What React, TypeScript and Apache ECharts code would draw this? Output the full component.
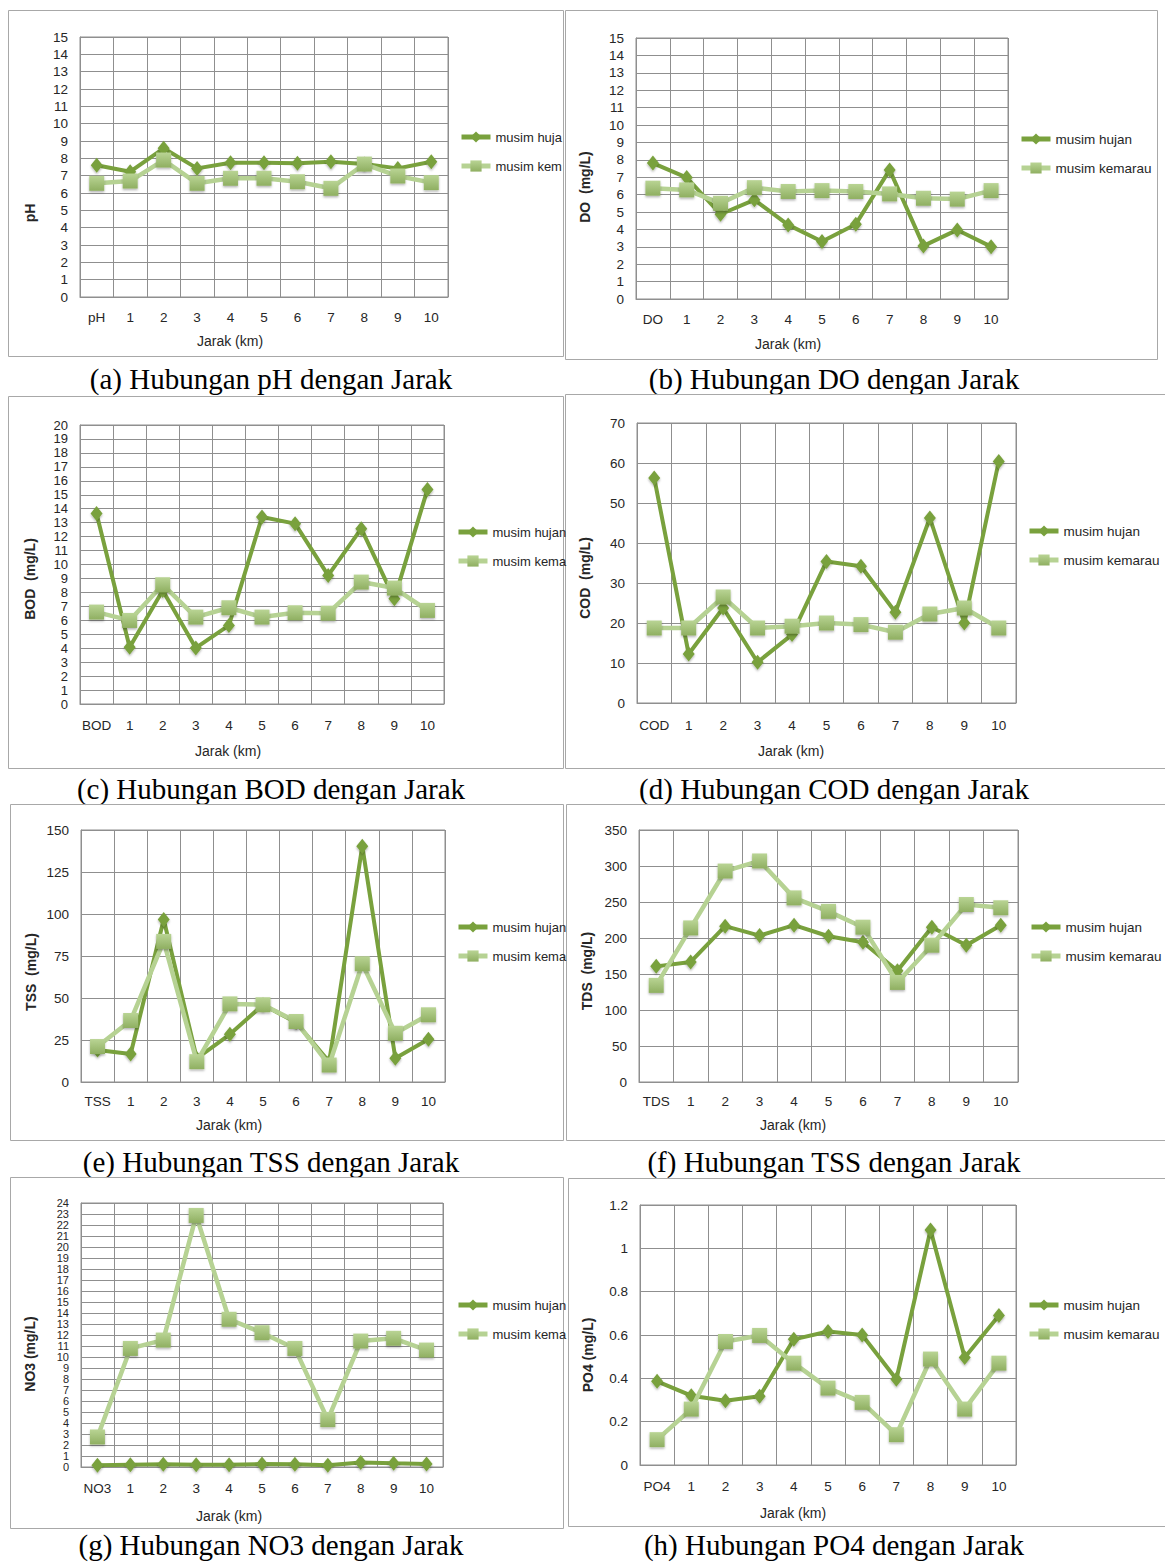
import React, { useEffect, useRef } from "react";
import * as echarts from "echarts";

// ---------- DATA ----------
const DIST = ["1", "2", "3", "4", "5", "6", "7", "8", "9", "10"];
const FIRST_LABELS = ["pH", "DO", "BOD", "COD", "TSS", "TDS", "NO3", "PO4"];
const SERIES_NAMES = ["musim hujan", "musim kemarau"];

const phHujan = [7.6, 7.23, 8.58, 7.42, 7.75, 7.75, 7.71, 7.8, 7.67, 7.42, 7.8];
const phKemarau = [6.56, 6.69, 7.9, 6.56, 6.85, 6.85, 6.65, 6.27, 7.67, 6.98, 6.6];
const doHujan = [7.81, 6.98, 4.87, 5.7, 4.26, 3.3, 4.3, 7.42, 3.05, 3.97, 3.01];
const doKemarau = [6.37, 6.27, 5.5, 6.4, 6.18, 6.23, 6.18, 6.04, 5.79, 5.74, 6.23];
const bodHujan = [13.65, 4.07, 8.14, 4.02, 5.63, 13.41, 12.93, 9.22, 12.57, 7.54, 15.38];
const bodKemarau = [6.59, 5.99, 8.55, 6.23, 6.9, 6.23, 6.54, 6.51, 8.74, 8.31, 6.71];
const codHujan = [56.25, 12.25, 23.75, 10.2, 17.1, 35.4, 34.2, 22.7, 46.25, 20, 60.4];
const codKemarau = [18.75, 18.75, 26.5, 18.75, 19.2, 20, 19.6, 17.7, 22.25, 23.75, 18.75];
const tssHujan = [19.1, 16.7, 96.7, 14, 28.4, 46, 35.4, 12, 140.4, 14.1, 25.5];
const tssKemarau = [21.1, 36.6, 83.7, 12.1, 46.5, 46, 36, 10.1, 70.4, 29, 40];
const tdsHujan = [160.6, 166.7, 216.4, 203.3, 217.8, 202.4, 194, 154.6, 215, 189.9, 217.8];
const tdsKemarau = [134.2, 214, 293, 307, 255.7, 237, 215, 138.3, 190, 246.5, 242];
const no3Hujan = [0.15, 0.2, 0.24, 0.2, 0.2, 0.27, 0.24, 0.15, 0.4, 0.33, 0.27];
const no3Kemarau = [2.73, 10.78, 11.54, 22.87, 13.43, 12.21, 10.78, 4.31, 11.45, 11.7, 10.63];
const po4Hujan = [0.386, 0.32, 0.297, 0.317, 0.58, 0.616, 0.6, 0.396, 1.085, 0.496, 0.69];
const po4Kemarau = [0.117, 0.258, 0.57, 0.598, 0.47, 0.355, 0.289, 0.14, 0.489, 0.258, 0.47];

// y axis ranges [min, max, interval]
const Y_RANGES = [
  [0, 15, 1],
  [0, 15, 1],
  [0, 20, 1],
  [0, 70, 10],
  [0, 150, 25],
  [0, 350, 50],
  [0, 24, 1],
  [0, 1.2, 0.2],
];
const Y_TITLES = ["pH", "DO  (mg/L)", "BOD  (mg/L)", "COD  (mg/L)", "TSS  (mg/L)", "TDS  (mg/L)", "NO3 (mg/L)", "PO4 (mg/L)"];
const X_TITLE = "Jarak (km)";
const CAPTIONS = [
  "(a) Hubungan pH dengan Jarak",
  "(b) Hubungan DO dengan Jarak",
  "(c) Hubungan BOD dengan Jarak",
  "(d) Hubungan COD dengan Jarak",
  "(e) Hubungan TSS dengan Jarak",
  "(f) Hubungan TSS dengan Jarak",
  "(g) Hubungan NO3 dengan Jarak",
  "(h) Hubungan PO4 dengan Jarak",
];
const HUJAN = [phHujan, doHujan, bodHujan, codHujan, tssHujan, tdsHujan, no3Hujan, po4Hujan];
const KEMARAU = [phKemarau, doKemarau, bodKemarau, codKemarau, tssKemarau, tdsKemarau, no3Kemarau, po4Kemarau];

// ---------- LAYOUT ----------
const LAYOUT = [
  { grid: [80, 37, 368, 260], lblMargin: 13, yFont: 13.5, yLH: 16, yT: [30, 213], xT: [230, 341], leg: [459, 129], legW: 70, legF: 13, box: [8, 10, 555, 346], cap: [271, 379] },
  { grid: [636, 38, 372, 261], lblMargin: 13, yFont: 13.5, yLH: 16, yT: [585, 187], xT: [788, 344], leg: [1019, 131], legW: 200, legF: 13.5, box: [565, 10, 592, 349], cap: [834, 379] },
  { grid: [80, 425, 364, 279], lblMargin: 14, yFont: 13, yLH: 13, yT: [30, 579], xT: [228, 751], leg: [456, 524], legW: 75, legF: 13, box: [8, 396, 555, 372], cap: [271, 789] },
  { grid: [637, 423, 379, 280], lblMargin: 15, yFont: 13.5, yLH: 16, yT: [585, 578], xT: [791, 751], leg: [1027, 523], legW: 200, legF: 13.5, box: [565, 394, 610, 374], cap: [834, 789] },
  { grid: [81, 830, 364, 252], lblMargin: 12, yFont: 13.5, yLH: 16, yT: [31, 972], xT: [229, 1125], leg: [456, 919], legW: 75, legF: 13, box: [10, 804, 553, 336], cap: [271, 1162] },
  { grid: [639, 830, 379, 252], lblMargin: 12, yFont: 13.5, yLH: 16, yT: [587, 971], xT: [793, 1125], leg: [1029, 919], legW: 200, legF: 13.5, box: [566, 804, 610, 336], cap: [834, 1162] },
  { grid: [81, 1203, 362, 264], lblMargin: 14, yFont: 11, yLH: 10, yT: [30, 1354], xT: [229, 1516], leg: [456, 1297], legW: 75, legF: 13, box: [10, 1177, 553, 351], cap: [271, 1545] },
  { grid: [640, 1205, 376, 260], lblMargin: 14, yFont: 13.5, yLH: 16, yT: [588, 1355], xT: [793, 1513], leg: [1027, 1297], legW: 200, legF: 13.5, box: [568, 1178, 610, 348], cap: [834, 1545] },
];

const SANS = '"Liberation Sans", Arial, sans-serif';
const SERIF = '"Liberation Serif", "Times New Roman", serif';
const GRID_COLOR = "#8f8f8f";
const TEXT_COLOR = "#262626";
const HUJAN_COLOR = "#79A13D";
const KEMARAU_LINE = "#B6D293";

function kemarauFill() {
  return new echarts.graphic.LinearGradient(0, 0, 0, 1, [
    { offset: 0, color: "#B9D494" },
    { offset: 1, color: "#8FAF61" },
  ]);
}

function buildOption() {
  const grids: any[] = [];
  const xAxes: any[] = [];
  const yAxes: any[] = [];
  const series: any[] = [];
  const legends: any[] = [];
  const graphics: any[] = [];

  LAYOUT.forEach((L, i) => {
    const [gl, gt, gw, gh] = L.grid;
    grids.push({
      left: gl, top: gt, width: gw, height: gh,
      containLabel: false, outerBoundsMode: "none",
      show: true, borderColor: GRID_COLOR, borderWidth: 1, backgroundColor: "transparent",
    });
    xAxes.push({
      type: "category", gridIndex: i, boundaryGap: true,
      data: [FIRST_LABELS[i], ...DIST],
      axisLine: { show: true, lineStyle: { color: GRID_COLOR, width: 1 } },
      axisTick: { show: false },
      axisLabel: { color: TEXT_COLOR, fontFamily: SANS, fontSize: 13.5, margin: L.lblMargin, interval: 0 },
      splitLine: { show: true, interval: 0, lineStyle: { color: GRID_COLOR, width: 1 } },
    });
    const [mn, mx, iv] = Y_RANGES[i];
    yAxes.push({
      type: "value", gridIndex: i, min: mn, max: mx, interval: iv,
      axisLine: { show: true, lineStyle: { color: GRID_COLOR, width: 1 } },
      axisTick: { show: false },
      axisLabel: {
        color: TEXT_COLOR, fontFamily: SANS, fontSize: L.yFont, lineHeight: L.yLH, margin: 12,
        hideOverlap: false, showMinLabel: true, showMaxLabel: true,
      },
      splitLine: { show: true, lineStyle: { color: GRID_COLOR, width: 1 } },
    });
    series.push({
      name: SERIES_NAMES[0], type: "line", xAxisIndex: i, yAxisIndex: i,
      data: HUJAN[i], symbol: "diamond", symbolSize: [12, 15],
      lineStyle: { color: HUJAN_COLOR, width: 4 },
      itemStyle: { color: HUJAN_COLOR, shadowBlur: 2, shadowOffsetY: 1.5, shadowColor: "rgba(0,0,0,0.3)" },
      z: 3,
    });
    series.push({
      name: SERIES_NAMES[1], type: "line", xAxisIndex: i, yAxisIndex: i,
      data: KEMARAU[i], symbol: "rect", symbolSize: 15,
      lineStyle: { color: KEMARAU_LINE, width: 4.5 },
      itemStyle: { color: kemarauFill(), shadowBlur: 2, shadowOffsetY: 1.5, shadowColor: "rgba(0,0,0,0.3)" },
      z: 4,
    });
    legends.push({
      show: true, orient: "vertical", left: L.leg[0], top: L.leg[1], padding: 0,
      itemWidth: 29, itemHeight: 14, itemGap: 13,
      data: [
        { name: SERIES_NAMES[0], lineStyle: { color: HUJAN_COLOR, width: 5 }, itemStyle: { color: HUJAN_COLOR } },
        { name: SERIES_NAMES[1], lineStyle: { color: KEMARAU_LINE, width: 5 }, itemStyle: { color: kemarauFill() } },
      ],
      textStyle: { fontFamily: SANS, fontSize: L.legF, color: TEXT_COLOR, lineHeight: 16, width: L.legW, overflow: "truncate", ellipsis: "" },
      selectedMode: false,
    });
    const [bx, by, bw, bh] = L.box;
    graphics.push({
      type: "rect", shape: { x: bx + 0.5, y: by + 0.5, width: bw, height: bh },
      style: { fill: "none", stroke: "#a8a8a8", lineWidth: 1 }, silent: true, z: 0,
    });
    graphics.push({
      type: "text", x: L.yT[0], y: L.yT[1], rotation: Math.PI / 2,
      style: {
        text: Y_TITLES[i], fill: TEXT_COLOR, font: `bold 14px ${SANS}`,
        align: "center", verticalAlign: "middle", textAlign: "center", textVerticalAlign: "middle",
      },
    });
    graphics.push({
      type: "text", x: L.xT[0], y: L.xT[1],
      style: {
        text: X_TITLE, fill: TEXT_COLOR, font: `14px ${SANS}`,
        align: "center", verticalAlign: "middle", textAlign: "center", textVerticalAlign: "middle",
      },
    });
    graphics.push({
      type: "text", x: L.cap[0], y: L.cap[1],
      style: {
        text: CAPTIONS[i], fill: "#000", font: `29px ${SERIF}`,
        align: "center", verticalAlign: "middle", textAlign: "center", textVerticalAlign: "middle",
      },
    });
  });

  return {
    animation: false,
    backgroundColor: "#ffffff",
    grid: grids,
    xAxis: xAxes,
    yAxis: yAxes,
    legend: legends,
    series,
    graphic: { elements: graphics },
  };
}

export default function App() {
  const ref = useRef<HTMLDivElement>(null);
  useEffect(() => {
    if (!ref.current) return;
    const chart = echarts.init(ref.current, undefined, { renderer: "svg" });
    chart.setOption(buildOption() as any);
    return () => chart.dispose();
  }, []);
  return (
    <div
      ref={ref}
      style={{ position: "absolute", left: 0, top: 0, width: 1165, height: 1562, background: "#fff" }}
    />
  );
}
